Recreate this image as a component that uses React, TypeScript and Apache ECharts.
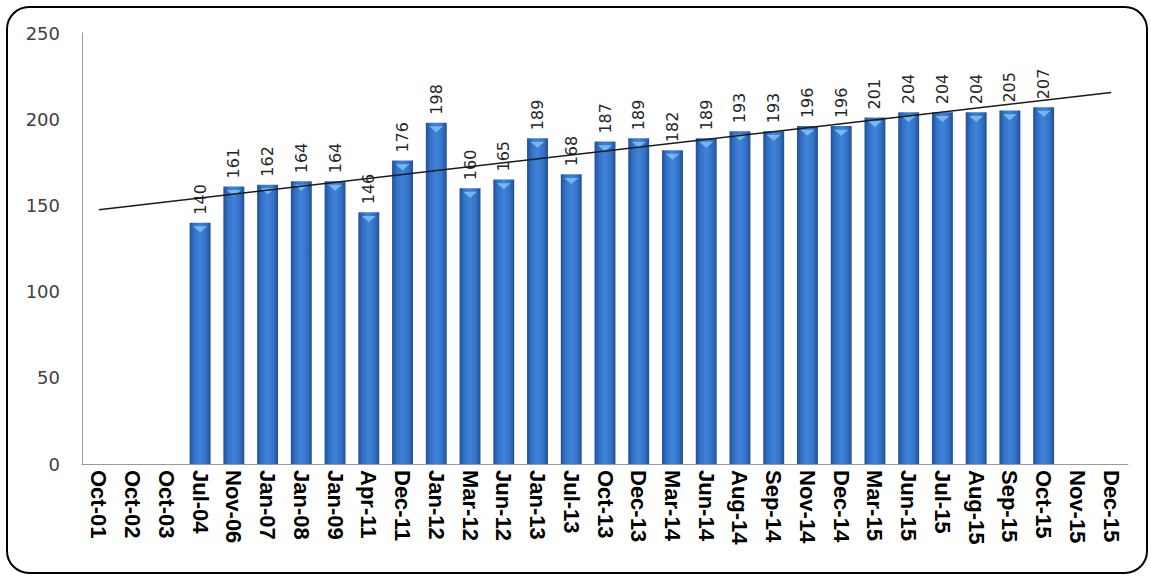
import React, { useEffect, useRef } from "react";
import * as echarts from "echarts";

const categories = [
  "Oct-01", "Oct-02", "Oct-03", "Jul-04", "Nov-06", "Jan-07", "Jan-08", "Jan-09",
  "Apr-11", "Dec-11", "Jan-12", "Mar-12", "Jun-12", "Jan-13", "Jul-13", "Oct-13",
  "Dec-13", "Mar-14", "Jun-14", "Aug-14", "Sep-14", "Nov-14", "Dec-14", "Mar-15",
  "Jun-15", "Jul-15", "Aug-15", "Sep-15", "Oct-15", "Nov-15", "Dec-15",
];

const values: (number | null)[] = [
  null, null, null, 140, 161, 162, 164, 164,
  146, 176, 198, 160, 165, 189, 168, 187,
  189, 182, 189, 193, 193, 196, 196, 201,
  204, 204, 204, 205, 207, null, null,
];

// Trendline endpoints (at first and last category)
const trendStart = 147.5;
const trendEnd = 215.5;

const yTicks = { min: 0, max: 250, interval: 50 };

export default function App() {
  const ref = useRef<HTMLDivElement>(null);

  useEffect(() => {
    if (!ref.current) return;
    const chart = echarts.init(ref.current, undefined, { renderer: "svg" });

    const trend = categories.map((_, i) =>
      i === 0 ? trendStart : i === categories.length - 1 ? trendEnd : null
    );

    const barGradient = new echarts.graphic.LinearGradient(0, 0, 1, 0, [
      { offset: 0, color: "#214f95" },
      { offset: 0.22, color: "#3372c6" },
      { offset: 0.5, color: "#3f83d8" },
      { offset: 0.78, color: "#3372c6" },
      { offset: 1, color: "#214f95" },
    ]);

    chart.setOption({
      animation: false,
      backgroundColor: "#ffffff",
      graphic: [
        {
          type: "rect",
          shape: { x: 7, y: 7, width: 1140, height: 566, r: 22 },
          style: { fill: "none", stroke: "#000", lineWidth: 2 },
          z: 100,
        },
      ],
      grid: { left: 82, right: 23, top: 33, bottom: 112, containLabel: false },
      xAxis: {
        type: "category",
        data: categories,
        axisLine: { show: true, lineStyle: { color: "#9a9a9a", width: 1 } },
        axisTick: { show: false },
        axisLabel: {
          rotate: -90,
          interval: 0,
          margin: 6,
          color: "#000",
          fontFamily: "Liberation Sans, Arial, sans-serif",
          fontWeight: "bold",
          fontSize: 22,
        },
      },
      yAxis: {
        type: "value",
        min: yTicks.min,
        max: yTicks.max,
        interval: yTicks.interval,
        axisLine: { show: true, lineStyle: { color: "#9a9a9a", width: 1 } },
        axisTick: { show: false },
        splitLine: { show: false },
        axisLabel: {
          margin: 22,
          color: "#404040",
          fontFamily: "DejaVu Sans, Verdana, sans-serif",
          fontSize: 18,
        },
      },
      series: [
        {
          type: "bar",
          data: values,
          barWidth: "62%",
          itemStyle: { color: barGradient },
          label: {
            show: true,
            position: "top",
            rotate: 90,
            align: "left",
            verticalAlign: "middle",
            distance: 8,
            color: "#262626",
            fontFamily: "DejaVu Sans, Verdana, sans-serif",
            fontSize: 16,
          },
        },
        {
          type: "pictorialBar",
          data: values,
          symbol: "triangle",
          symbolRotate: 180,
          symbolPosition: "end",
          symbolSize: [14, 6],
          symbolOffset: [0, "60%"],
          itemStyle: { color: "#74b8f0" },
          z: 3,
          silent: true,
        },
        {
          type: "line",
          data: trend,
          connectNulls: true,
          symbol: "none",
          lineStyle: { color: "#1a1a1a", width: 1.5 },
          z: 5,
        },
      ],
    });

    return () => chart.dispose();
  }, []);

  return (
    <div
      ref={ref}
      style={{ position: "fixed", left: 0, top: 0, width: 1151, height: 576 }}
    />
  );
}
